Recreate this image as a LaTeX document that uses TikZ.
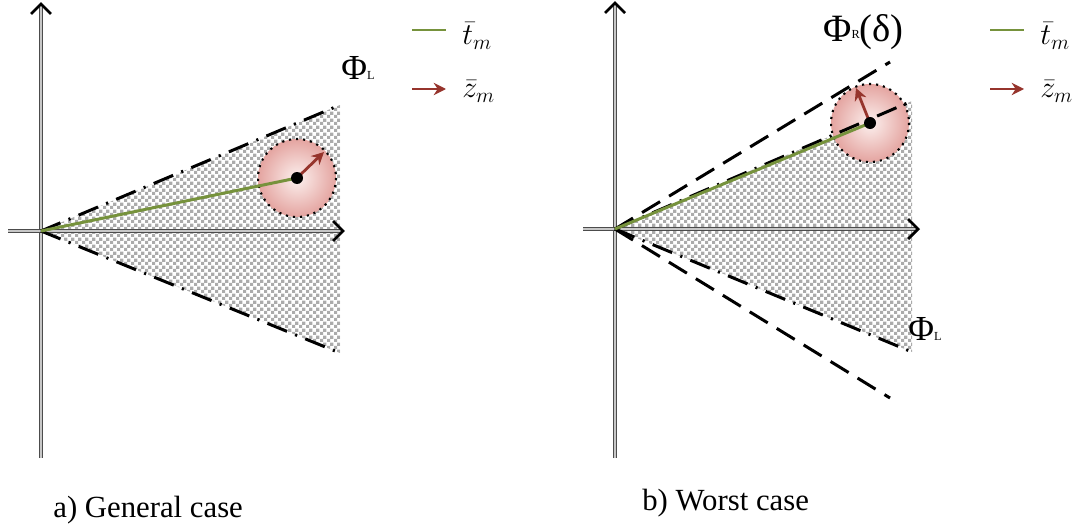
\documentclass[tikz,border=0pt]{standalone}
\usepackage{fontspec}
\setmainfont{Liberation Serif}
\usetikzlibrary{arrows.meta,calc,patterns}
\definecolor{trackgreen}{RGB}{118,146,60}
\definecolor{pushred}{RGB}{150,52,44}
\definecolor{blobedge}{RGB}{228,164,160}
\definecolor{blobcore}{RGB}{252,240,238}
\pgfdeclarepatternformonly{finechecker}{\pgfpointorigin}{\pgfpoint{3.8pt}{3.8pt}}{\pgfpoint{3.8pt}{3.8pt}}{%
 \pgfpathrectangle{\pgfpointorigin}{\pgfpoint{1.9pt}{1.9pt}}%
 \pgfpathrectangle{\pgfpoint{1.9pt}{1.9pt}}{\pgfpoint{1.9pt}{1.9pt}}%
 \pgfusepath{fill}}

\begin{document}
\begin{tikzpicture}[x=0.2mm,y=-0.2mm,line join=round,
 axis/.style={draw=black!70,double=black!22,double distance=1.2pt,line width=0.5pt},
 axtip/.style={line width=1.6pt,line join=miter},
 boundary/.style={line width=1.7pt,dash pattern=on 12pt off 5pt on 1.2pt off 5pt},
 cone/.style={line width=1.7pt,dash pattern=on 12pt off 6pt},
 region/.style={pattern=finechecker,pattern color=black!33},
 blob/.style={inner color=blobcore,outer color=blobedge},
 rim/.style={line width=1.2pt,dash pattern=on 1.2pt off 2.8pt},
 track/.style={trackgreen,line width=1.7pt},
 push/.style={pushred,line width=1.6pt,-{Stealth[length=7pt,width=7pt]}},
 phi/.style={font=\fontsize{20}{24}\selectfont,anchor=base west,inner sep=0pt},
 caption/.style={font=\fontsize{17.5}{21}\selectfont,anchor=base west,inner sep=0pt},
 legend/.style={font=\fontsize{18}{20}\selectfont,anchor=base west,inner sep=0pt}]
\useasboundingbox (0,0) rectangle (1081,529);

% a) general case
\coordinate (oa) at (41,231);
\coordinate (ya) at (41,4); \coordinate (yba) at (41,458);
\coordinate (xa) at (343,231); \coordinate (xla) at (8,231);
\coordinate (ua) at (340,105); \coordinate (la) at (340,353);
\coordinate (ca) at (297,178);
\fill[region] (oa)--(ua)--(la)--cycle;
\draw[axis] (yba)--(ya);
\draw[axis] (xla)--(xa);
\shade[blob] (ca) circle[radius=39];
\draw[rim] (ca) circle[radius=39];
\draw[boundary] (oa)--(ua);
\draw[boundary] (oa)--(la);
\draw[track] (oa)--(ca);
\draw[push] (ca)--($(ca)+(27,-26)$);
\fill (ca) circle[radius=6];
\node[phi] (phila) at (341,80) {Φ{\fontsize{7}{8}\selectfont L}};
\node[caption] (capa) at (53,517) {a) General case};

% b) worst case
\coordinate (ob) at (615,229);
\coordinate (yb) at (615,3); \coordinate (ybb) at (615,458);
\coordinate (xb) at (918,229); \coordinate (xlb) at (583,229);
\coordinate (ub) at (912,101); \coordinate (lb) at (912,352);
\coordinate (rub) at (890,62); \coordinate (rlb) at (890,398);
\coordinate (cb) at (870,123);
\fill[region] (ob)--(ub)--(lb)--cycle;
\draw[axis] (ybb)--(yb);
\draw[axis] (xlb)--(xb);
\shade[blob] (cb) circle[radius=39];
\draw[rim] (cb) circle[radius=39];
\draw[cone] (ob)--(rub);
\draw[cone] (ob)--(rlb);
\draw[boundary] (ob)--(ub);
\draw[boundary] (ob)--(lb);
\draw[track] (ob)--(cb);
\draw[push] (cb)--($(cb)+(-14,-35)$);
\fill (cb) circle[radius=6];
\node[phi] (philb) at (908,340) {Φ{\fontsize{7}{8}\selectfont L}};
\node[phi,font=\fontsize{22}{26}\selectfont] (phirb) at (823,42) {Φ\raisebox{2pt}{\fontsize{7}{8}\selectfont R}(δ)};
\node[caption] (capb) at (642,510) {b) Worst case};

% axis tips
\foreach \t in {ya,yb}
 {\draw[axtip] ($(\t)+(-10,10)$)--(\t)--($(\t)+(10,10)$);}
\foreach \t in {xa,xb}
 {\draw[axtip] ($(\t)+(-10,-10)$)--(\t)--($(\t)+(-10,10)$);}

% legends
\foreach \lx/\k in {412/a,990/b}
 {\draw[track] (\lx,30)--++(34,0);
  \draw[push] (\lx,89)--++(34,0);
  \node[legend] (tlab\k) at (\lx+50,45) {$\bar{t}_m$};
  \node[legend] (zlab\k) at (\lx+50,98) {$\bar{z}_m$};}
\end{tikzpicture}
\end{document}
